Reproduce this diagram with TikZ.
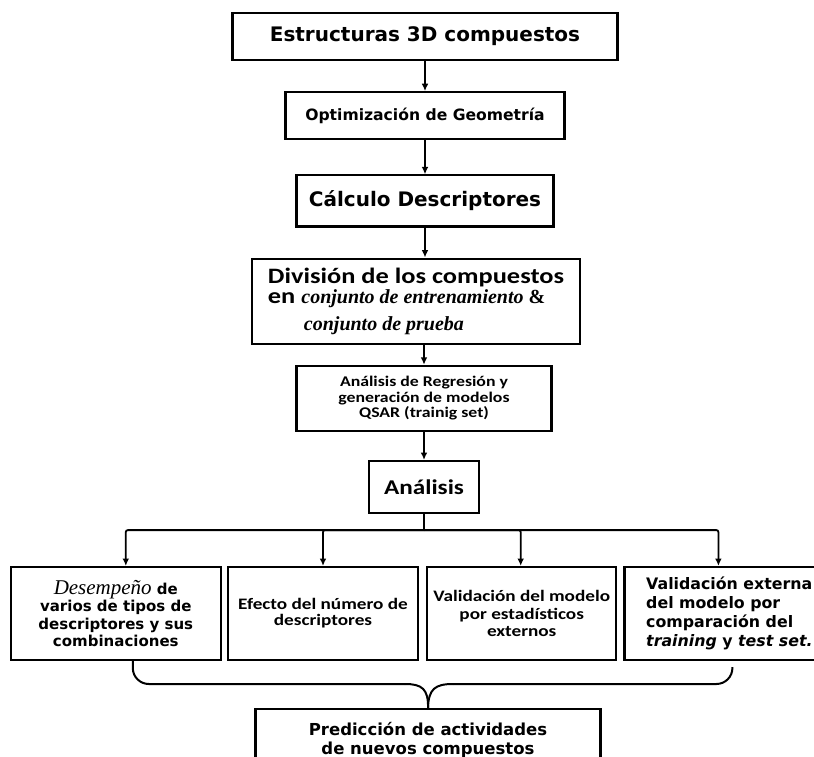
\documentclass[tikz,border=0pt]{standalone}
\usepackage{fontspec}
\setmainfont{DejaVu Sans}
\newfontfamily\calibrifont[FakeStretch=1.2]{Carlito}
\newfontfamily\romanfont{Liberation Serif}
\usetikzlibrary{arrows.meta,positioning}

\begin{document}
\begin{tikzpicture}[x=1pt, y=-1pt,
    node distance=30pt and 6pt,
    box/.style={draw, line width=2.2pt, align=center, inner sep=3pt},
    arrow/.style={-{Latex[length=2.6mm,width=2.4mm]}, line width=1.8pt},
    brace/.style={line width=2pt}
]
\useasboundingbox (0,0) rectangle (814,757);
\clip (0,0) rectangle (814,757);

\node[box, minimum width=385pt, minimum height=47pt, font=\bfseries\fontsize{20}{22}\selectfont] (estruct) at (425,36.5) {Estructuras 3D compuestos};
\node[box, below=30pt of estruct, minimum width=279pt, minimum height=47pt, font=\bfseries\fontsize{15.6}{17}\selectfont] (optim) {Optimización de Geometría};
\node[box, below=34pt of optim, minimum width=257pt, minimum height=51pt, font=\bfseries\fontsize{20}{22}\selectfont] (calc) {Cálculo Descriptores};
\node[box, below=30pt of calc, xshift=-9pt, minimum width=328pt, minimum height=85pt, align=left, font=\fontsize{21}{20.5}\selectfont] (divis)
  {{\calibrifont\bfseries\fontsize{22}{20.5}\selectfont División de los compuestos}\\
   {\calibrifont\bfseries\fontsize{22}{20.5}\selectfont en }{\romanfont\bfseries\itshape\fontsize{20}{20.5}\selectfont conjunto de entrenamiento \upshape\&}\\[6pt]
   \hspace*{36pt}{\romanfont\bfseries\itshape\fontsize{20}{20.5}\selectfont conjunto de prueba}};
\node[box, below=20pt of divis, xshift=8pt, minimum width=255pt, minimum height=65pt, font=\calibrifont\bfseries\fontsize{14.8}{15.5}\selectfont] (regres)
  {Análisis de Regresión y\\generación de modelos\\QSAR (trainig set)};
\node[box, below=28pt of regres, minimum width=110pt, minimum height=52pt, font=\calibrifont\bfseries\fontsize{21}{24}\selectfont] (anal) {Análisis};

% fila de resultados
\node[box, minimum width=190pt, minimum height=93pt, font=\calibrifont\bfseries\fontsize{16}{16}\selectfont] (efecto) at (323,613.5)
  {Efecto del número de\\descriptores};
\node[box, left=5pt of efecto, minimum width=210pt, minimum height=93pt, font=\bfseries\fontsize{15}{17.5}\selectfont] (desemp)
  {{\romanfont\mdseries\itshape\fontsize{21}{17.5}\selectfont Desempeño} de\\varios de tipos de\\descriptores y sus\\combinaciones};
\node[box, right=7pt of efecto, minimum width=189pt, minimum height=93pt, font=\calibrifont\bfseries\fontsize{16}{17.5}\selectfont] (valid)
  {Validación del modelo\\por estadísticos\\externos};
\node[box, right=6pt of valid, minimum width=210pt, minimum height=93pt, align=left, font=\bfseries\fontsize{15.8}{19}\selectfont] (extern)
  {Validación externa\\del modelo por\\comparación del\\\textit{training} y \textit{test set.}};
\node[box, below=47pt of efecto, xshift=105pt, minimum width=345pt, minimum height=61pt, font=\bfseries\fontsize{16.5}{19}\selectfont] (pred)
  {Predicción de actividades\\de nuevos compuestos};

\draw[arrow] (estruct) -- (optim);
\draw[arrow] (optim) -- (calc);
\draw[arrow] (calc.south) -- (calc.south |- divis.north);
\draw[arrow] (regres.north |- divis.south) -- (regres.north);
\draw[arrow] (regres) -- (anal);

\draw[line width=1.8pt] (anal.south) -- ++(0,16) coordinate (hub);
\foreach \n/\dx in {desemp/10,efecto/0,valid/-1,extern/-11}
  \draw[arrow, rounded corners=2pt] (hub) -| ([xshift=\dx pt]\n.north);

% llave hacia la prediccion
\draw[brace, rounded corners=16pt] ([xshift=17pt]desemp.south) |- (405,684);
\draw[brace, rounded corners=16pt] ([xshift=3pt,yshift=-6pt]extern.south) |- (453,684);
\draw[brace] (405,684) .. controls (422,684) and (428.5,689) .. (pred.north);
\draw[brace] (453,684) .. controls (435,684) and (428.5,689) .. (pred.north);
\end{tikzpicture}
\end{document}
